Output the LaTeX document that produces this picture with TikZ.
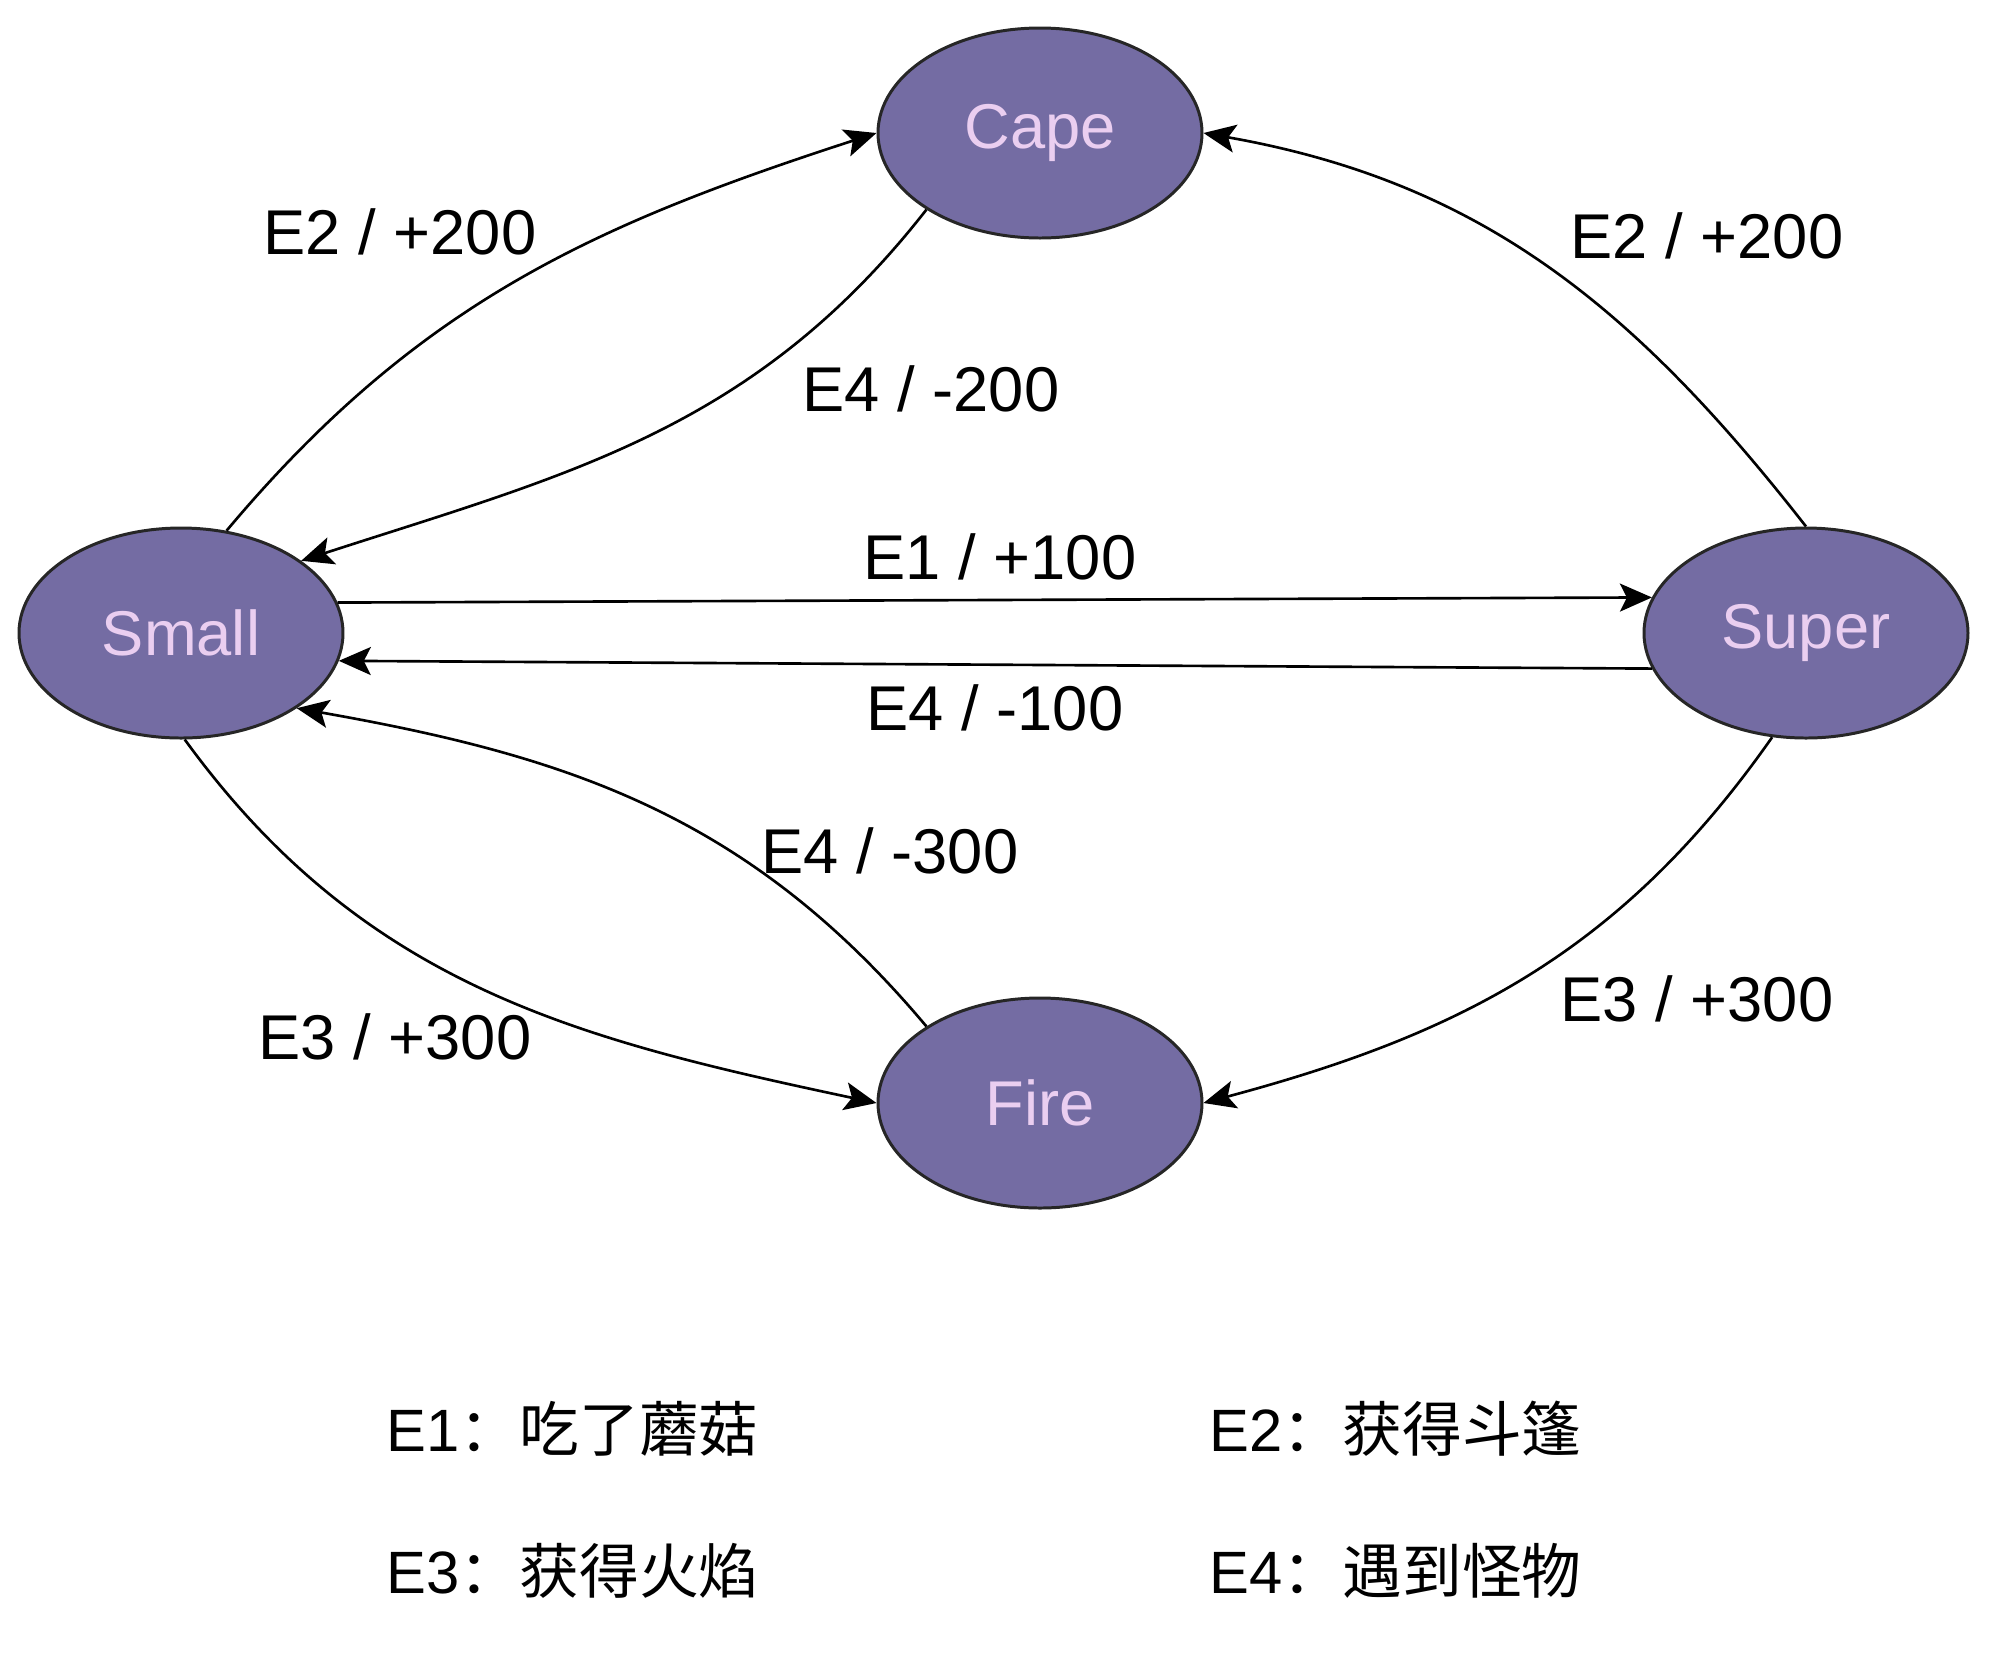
\documentclass[tikz,border=0pt]{standalone}
\usepackage{fontspec}
\setmainfont{Liberation Sans}
\newfontfamily\cjk{Noto Sans CJK SC}
\usetikzlibrary{arrows.meta,shapes.geometric}
\definecolor{statefill}{RGB}{116,108,163}
\definecolor{statetext}{RGB}{234,206,240}
\begin{document}
\begin{tikzpicture}[
	state/.style={ellipse, draw=black!85, line width=0.85pt, fill=statefill, text=statetext,
		minimum width=3.24cm, minimum height=2.1cm, inner sep=0pt, font=\fontsize{18}{20}\selectfont},
	edge/.style={line width=0.75pt, -{Stealth[length=0.32cm, width=0.28cm, inset=0.07cm]}},
	lbl/.style={font=\fontsize{18}{20}\selectfont, inner sep=1pt},
	legend/.style={anchor=west, font=\fontsize{17}{19}\selectfont, inner sep=0pt}]
		\useasboundingbox (0,0) rectangle (20,-16.68);
		%States
		\node[state] (cape) at (10.40,-1.33) {Cape};
		\node[state] (small) at (1.81,-6.33) {Small};
		\node[state] (super) at (18.06,-6.33) {Super};
		\node[state] (fire) at (10.40,-11.03) {Fire};
		%Transitions
		\draw[edge] (small.66) to[out=50,in=198] (cape.west);
		\draw[edge] (cape.214) to[out=232,in=18] (small.31);
		\draw[edge] (small.11) -- (super.167);
		\draw[edge] (super.193) -- (small.350);
		\draw[edge] (super.90) to[out=128,in=-10] (cape.east);
		\draw[edge] (super.252) to[out=235,in=15] (fire.east);
		\draw[edge] (small.272) to[out=-54,in=168] (fire.west);
		\draw[edge] (fire.146) to[out=130,in=-10] (small.327);
		%Labels
		\node[lbl] (l_sc) at (4.00,-2.32) {E2 / +200};
		\node[lbl] (l_cs) at (9.31,-3.89) {E4 / -200};
		\node[lbl] (l_ss) at (10.00,-5.57) {E1 / +100};
		\node[lbl] (l_us) at (9.95,-7.08) {E4 / -100};
		\node[lbl] (l_uc) at (17.07,-2.36) {E2 / +200};
		\node[lbl] (l_uf) at (16.97,-9.99) {E3 / +300};
		\node[lbl] (l_sf) at (3.95,-10.37) {E3 / +300};
		\node[lbl] (l_fs) at (8.90,-8.51) {E4 / -300};
		%Legend
		\node[legend] (e1) at (3.86,-14.29) {E1{\cjk：吃了蘑菇}};
		\node[legend] (e2) at (12.09,-14.29) {E2{\cjk：获得斗篷}};
		\node[legend] (e3) at (3.86,-15.71) {E3{\cjk：获得火焰}};
		\node[legend] (e4) at (12.09,-15.71) {E4{\cjk：遇到怪物}};
\end{tikzpicture}
\end{document}
